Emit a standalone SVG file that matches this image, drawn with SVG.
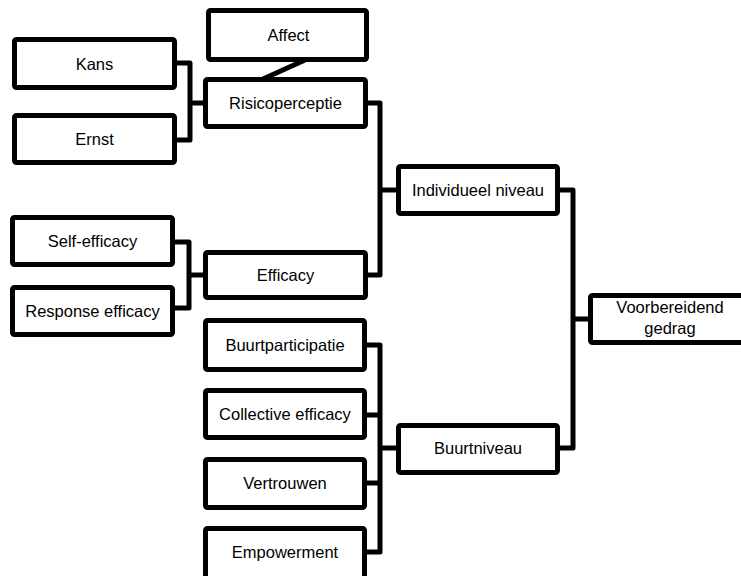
<svg xmlns="http://www.w3.org/2000/svg" width="741" height="576" viewBox="0 0 741 576">
<style>
.box{fill:#fff;stroke:#000;stroke-width:5;stroke-linejoin:round}
.lbl{font-family:"Liberation Sans",Arial,sans-serif;font-size:16.5px;fill:#000;text-anchor:middle}
.con{fill:none;stroke:#000;stroke-width:5;stroke-linejoin:round;stroke-linecap:butt}
</style>
<rect width="741" height="576" fill="#fff"/>
<g id="connectors">
<path class="con" d="M177 63 H190 V140 H177 M190 103 H203"/>
<path class="con" d="M368 103 H380 V275 H368 M380 190 H396"/>
<path class="con" d="M175 242 H189 V308 H175 M189 275 H203"/>
<path class="con" d="M367 345 H380 V552 H367 M367 415 H380 M367 483 H380 M380 448 H396"/>
<path class="con" d="M560 190 H573 V448 H560 M573 319 H588"/>
<path class="con" d="M305 60 L263 79"/>
</g>
<g id="affect"><rect class="box" x="208.5" y="10.5" width="158" height="49" rx="2"/><text class="lbl" x="288.5" y="41">Affect</text></g>
<g id="kans"><rect class="box" x="14.5" y="39.5" width="160" height="48" rx="2"/><text class="lbl" x="94.5" y="69.5">Kans</text></g>
<g id="ernst"><rect class="box" x="14.5" y="115.5" width="160" height="47" rx="2"/><text class="lbl" x="94.5" y="145">Ernst</text></g>
<g id="risicoperceptie"><rect class="box" x="205.5" y="79.5" width="160" height="47" rx="2"/><text class="lbl" x="285.5" y="109">Risicoperceptie</text></g>
<g id="self-efficacy"><rect class="box" x="12.5" y="217.5" width="160" height="47" rx="2"/><text class="lbl" x="92.5" y="247">Self-efficacy</text></g>
<g id="response-efficacy"><rect class="box" x="12.5" y="287.5" width="160" height="47" rx="2"/><text class="lbl" x="92.5" y="317">Response efficacy</text></g>
<g id="efficacy"><rect class="box" x="205.5" y="252.5" width="160" height="45" rx="2"/><text class="lbl" x="285.5" y="281">Efficacy</text></g>
<g id="individueel-niveau"><rect class="box" x="398.5" y="166.5" width="159" height="47" rx="2"/><text class="lbl" x="478" y="196">Individueel niveau</text></g>
<g id="buurtparticipatie"><rect class="box" x="205.5" y="320.5" width="159" height="49" rx="2"/><text class="lbl" x="285" y="351">Buurtparticipatie</text></g>
<g id="collective-efficacy"><rect class="box" x="205.5" y="390.5" width="159" height="47" rx="2"/><text class="lbl" x="285" y="420">Collective efficacy</text></g>
<g id="vertrouwen"><rect class="box" x="205.5" y="459.5" width="159" height="48" rx="2"/><text class="lbl" x="285" y="489">Vertrouwen</text></g>
<g id="empowerment"><rect class="box" x="205.5" y="528.5" width="159" height="50" rx="2"/><text class="lbl" x="285" y="558">Empowerment</text></g>
<g id="buurtniveau"><rect class="box" x="398.5" y="425.5" width="159" height="47" rx="2"/><text class="lbl" x="478" y="454">Buurtniveau</text></g>
<g id="voorbereidend-gedrag"><rect class="box" x="590.5" y="295.5" width="170" height="47" rx="2"/><text class="lbl" x="670" y="313">Voorbereidend</text><text class="lbl" x="670" y="334">gedrag</text></g>
</svg>
